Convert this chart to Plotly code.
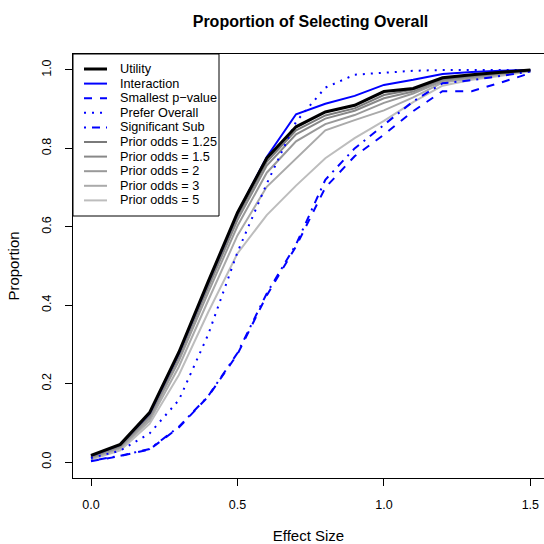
import plotly.graph_objects as go

effect = [0.0, 0.1, 0.2, 0.3, 0.4, 0.5, 0.6, 0.7, 0.8, 0.9, 1.0, 1.1, 1.2, 1.3, 1.4, 1.5]

utility = [0.017, 0.045, 0.126, 0.28, 0.46, 0.636, 0.775, 0.855, 0.893, 0.91, 0.945, 0.953, 0.98, 0.988, 0.994, 1.0]
interaction = [0.016, 0.044, 0.124, 0.278, 0.458, 0.635, 0.778, 0.887, 0.914, 0.934, 0.962, 0.975, 0.99, 0.995, 0.998, 1.0]
smallest_p = [0.002, 0.015, 0.032, 0.088, 0.167, 0.275, 0.425, 0.55, 0.70, 0.78, 0.835, 0.895, 0.946, 0.946, 0.968, 0.992]
prefer_overall = [0.01, 0.029, 0.073, 0.158, 0.325, 0.535, 0.71, 0.868, 0.955, 0.988, 0.993, 0.998, 1.0, 1.0, 1.0, 1.0]
significant_sub = [0.003, 0.016, 0.033, 0.09, 0.168, 0.278, 0.43, 0.555, 0.72, 0.80, 0.86, 0.92, 0.966, 0.974, 0.985, 0.996]

prior_125 = [0.015, 0.043, 0.122, 0.275, 0.452, 0.627, 0.766, 0.846, 0.884, 0.902, 0.936, 0.95, 0.978, 0.986, 0.993, 1.0]
prior_15 = [0.013, 0.041, 0.118, 0.268, 0.445, 0.617, 0.756, 0.836, 0.876, 0.896, 0.928, 0.945, 0.976, 0.984, 0.992, 1.0]
prior_2 = [0.011, 0.038, 0.112, 0.258, 0.432, 0.602, 0.738, 0.818, 0.862, 0.885, 0.916, 0.94, 0.972, 0.981, 0.99, 0.999]
prior_3 = [0.009, 0.035, 0.105, 0.243, 0.412, 0.578, 0.702, 0.775, 0.846, 0.872, 0.897, 0.93, 0.968, 0.978, 0.988, 0.998]
prior_5 = [0.006, 0.03, 0.097, 0.222, 0.382, 0.532, 0.63, 0.705, 0.775, 0.826, 0.87, 0.918, 0.96, 0.975, 0.985, 0.997]

x_ticks = [0.0, 0.5, 1.0, 1.5]
x_tick_labels = ["0.0", "0.5", "1.0", "1.5"]
y_ticks = [0.0, 0.2, 0.4, 0.6, 0.8, 1.0]
y_tick_labels = ["0.0", "0.2", "0.4", "0.6", "0.8", "1.0"]

series = [
    ("Utility", utility, "#000000", 3, "solid"),
    ("Interaction", interaction, "#0000ff", 2, "solid"),
    ("Smallest p\u2212value", smallest_p, "#0000ff", 2, "8px,8px"),
    ("Prefer Overall", prefer_overall, "#0000ff", 2, "2px,6px"),
    ("Significant Sub", significant_sub, "#0000ff", 2, "2px,6px,8px,6px"),
    ("Prior odds = 1.25", prior_125, "#7a7a7a", 2, "solid"),
    ("Prior odds = 1.5", prior_15, "#888888", 2, "solid"),
    ("Prior odds = 2", prior_2, "#999999", 2, "solid"),
    ("Prior odds = 3", prior_3, "#aaaaaa", 2, "solid"),
    ("Prior odds = 5", prior_5, "#bdbdbd", 2, "solid"),
]

W, H = 544, 544
ML, MR, MT, MB = 73, 0, 54, 66
PW, PH = W - ML - MR, H - MT - MB


def px_to_paper(px, py):
    return (px - ML) / PW, (H - MB - py) / PH


fig = go.Figure()
# draw in reverse so Utility ends up on top
for name, vals, col, w, dash in reversed(series):
    fig.add_trace(go.Scatter(
        x=effect, y=vals, mode="lines", name=name,
        line=dict(color=col, width=w, dash=dash),
        showlegend=False,
    ))

# R-style legend box in the top-left corner
shapes = []
annotations = []
bx0, by0 = px_to_paper(73, 54)
bx1, by1 = px_to_paper(219, 216)
shapes.append(dict(type="rect", xref="paper", yref="paper",
                   x0=bx0, x1=bx1, y0=by1, y1=by0,
                   line=dict(color="black", width=1), fillcolor="white",
                   layer="above"))
for i, (name, vals, col, w, dash) in enumerate(series):
    cy = 69 + 14.6 * i
    lx0, ly = px_to_paper(84, cy)
    lx1, _ = px_to_paper(107, cy)
    shapes.append(dict(type="line", xref="paper", yref="paper",
                       x0=lx0, x1=lx1, y0=ly, y1=ly,
                       line=dict(color=col, width=w, dash=dash), layer="above"))
    tx, _ = px_to_paper(117.5, cy)
    annotations.append(dict(text=name, xref="paper", yref="paper",
                            x=tx, y=ly, xanchor="left", yanchor="middle",
                            showarrow=False, font=dict(size=12.7)))

font = "Liberation Sans, Arial, Helvetica, sans-serif"
fig.update_layout(
    width=W, height=H,
    margin=dict(l=ML, r=MR, t=MT, b=MB, autoexpand=False),
    paper_bgcolor="white", plot_bgcolor="white",
    font=dict(family=font, size=12.5, color="black"),
    showlegend=False,
    shapes=shapes,
    annotations=annotations,
    title=dict(
        text="<b>Proportion of Selecting Overall</b>",
        x=(310.5 - ML) / PW, xref="paper", xanchor="center",
        y=1 - 21 / H, yref="container", yanchor="middle",
        font=dict(size=16),
    ),
    xaxis=dict(
        range=[-0.0615, 1.5466], tickvals=x_ticks, ticktext=x_tick_labels,
        showgrid=False, zeroline=False, automargin=False,
        showline=True, mirror=True, linecolor="black", linewidth=1,
        ticks="outside", ticklen=7, tickcolor="black",
        ticklabelstandoff=8,
        title=dict(text="Effect Size", standoff=21),
    ),
    yaxis=dict(
        range=[-0.0408, 1.0408], tickvals=y_ticks, ticktext=y_tick_labels,
        tickangle=-90,
        showgrid=False, zeroline=False, automargin=False,
        showline=True, mirror=False, linecolor="black", linewidth=1,
        ticks="outside", ticklen=7, tickcolor="black",
        ticklabelstandoff=9,
        title=dict(text="Proportion", standoff=16),
    ),
)

fig.write_html(
    "out.html",
    config={"displayModeBar": False},
    post_script="document.body.style.margin='0';document.body.style.overflow='hidden';",
)
